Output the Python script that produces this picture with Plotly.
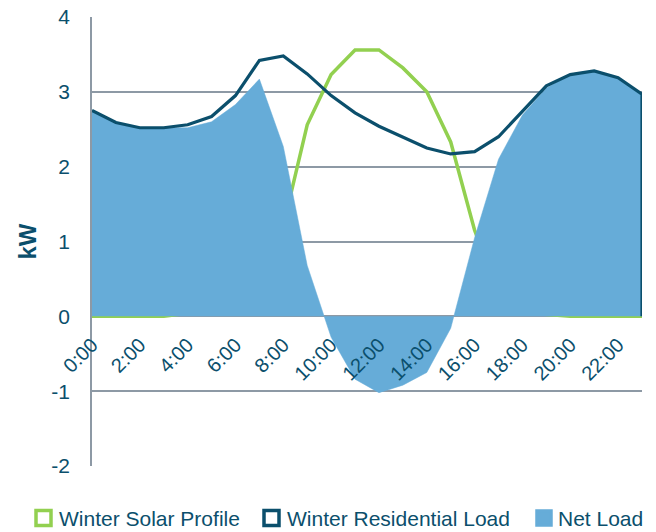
import plotly.graph_objects as go

# Hourly winter profiles (kW)
HOURS = list(range(24))
SOLAR = [0.0, 0.0, 0.0, 0.0, 0.04, 0.07, 0.12, 0.25, 1.21, 2.56, 3.23, 3.56,
         3.56, 3.32, 3.0, 2.33, 1.15, 0.3, 0.05, 0.03, 0.0, 0.0, 0.0, 0.0]
LOAD = [2.75, 2.59, 2.52, 2.52, 2.56, 2.67, 2.95, 3.42, 3.48, 3.24, 2.95, 2.72,
        2.54, 2.40, 2.25, 2.17, 2.20, 2.40, 2.74, 3.08, 3.23, 3.28, 3.19, 2.97]
NET = [2.75, 2.59, 2.52, 2.52, 2.52, 2.60, 2.83, 3.17, 2.27, 0.68, -0.28, -0.84,
       -1.02, -0.92, -0.75, -0.16, 1.05, 2.10, 2.69, 3.05, 3.23, 3.28, 3.19, 2.97]
TICK_HOURS = list(range(0, 24, 2))
TICK_TEXT = [f"{h}:00" for h in TICK_HOURS]
Y_TICKS = [-2, -1, 0, 1, 2, 3, 4]
Y_TEXT = ["-2", "-1", "0", "1", "2", "3", "4"]
SERIES_NAMES = ["Winter Solar Profile", "Winter Residential Load", "Net Load"]

GREEN = "#92D050"
DARK = "#0B4F6C"
BLUE = "#66ACD8"
GRID = "#8D99A5"
TEXT = "#0B4F6C"
FONT = "Liberation Sans, Arial"

W, H = 656, 532
L, R, T, B = 92, 14, 17, 66
PW, PH = W - L - R, H - T - B


def px(x):
    """pixel x -> paper x"""
    return (x - L) / PW


def py(y):
    """pixel y -> paper y"""
    return (H - B - y) / PH


fig = go.Figure()

# solar profile (drawn first, hidden behind net load)
fig.add_trace(go.Scatter(x=HOURS, y=SOLAR, mode="lines", name=SERIES_NAMES[0],
                         line=dict(color=GREEN, width=3.5),
                         showlegend=False))

# net load filled area
fig.add_trace(go.Scatter(x=HOURS, y=NET, mode="lines", fill="tozeroy",
                         name=SERIES_NAMES[2],
                         fillcolor=BLUE, line=dict(color=BLUE, width=0.5),
                         showlegend=False))

# residential load on top, dropping to the baseline at the right edge
fig.add_trace(go.Scatter(x=HOURS + [HOURS[-1]], y=LOAD + [0], mode="lines",
                         name=SERIES_NAMES[1],
                         line=dict(color=DARK, width=3.2),
                         showlegend=False))

# hand-made legend in one row (plotly would wrap it)
legend_items = [
    # label, edge colour, fill, box left px, box size, text left px
    (SERIES_NAMES[0], GREEN, "white", 36, 15, 57),
    (SERIES_NAMES[1], DARK, "white", 264, 15, 285),
    (SERIES_NAMES[2], BLUE, BLUE, 537, 14, 556),
]
LEG_Y = 518
for label, edge, fillc, bx, bs, tx in legend_items:
    fig.add_shape(type="rect", xref="paper", yref="paper",
                  x0=px(bx), x1=px(bx + bs),
                  y0=py(LEG_Y - bs / 2), y1=py(LEG_Y + bs / 2),
                  fillcolor=fillc, line=dict(color=edge, width=3.5))
    fig.add_annotation(xref="paper", yref="paper", x=px(tx), y=py(LEG_Y),
                       xanchor="left", yanchor="middle", showarrow=False,
                       text=label, font=dict(size=21, color=TEXT))

fig.update_layout(
    width=W, height=H,
    margin=dict(l=L, r=R, t=T, b=B),
    plot_bgcolor="white", paper_bgcolor="white",
    font=dict(family=FONT, color=TEXT, size=20),
    showlegend=False,
)

fig.update_xaxes(
    range=[0, 23], tickvals=TICK_HOURS, ticktext=TICK_TEXT,
    tickangle=-45, showgrid=False, zeroline=False,
    anchor="free", position=1 / 3, automargin=False,
    showline=False, ticks="", ticklabelstandoff=12,
    tickfont=dict(size=20, color=TEXT),
)
fig.update_yaxes(
    range=[-2, 4], tickvals=Y_TICKS, ticktext=Y_TEXT,
    showgrid=True, gridcolor=GRID, gridwidth=1.5,
    zeroline=True, zerolinecolor=GRID, zerolinewidth=1.5,
    showline=True, linecolor=GRID, linewidth=1.5,
    ticks="", ticklabelstandoff=16, automargin=False,
    tickfont=dict(size=21, color=TEXT),
    title=dict(text="<b>kW</b>", font=dict(size=24, color=TEXT), standoff=8),
)

# drop the browser's default body margin so the chart sits at the page origin
fig.write_html("out.html", config={"displayModeBar": False},
               post_script="document.body.style.margin='0';")
